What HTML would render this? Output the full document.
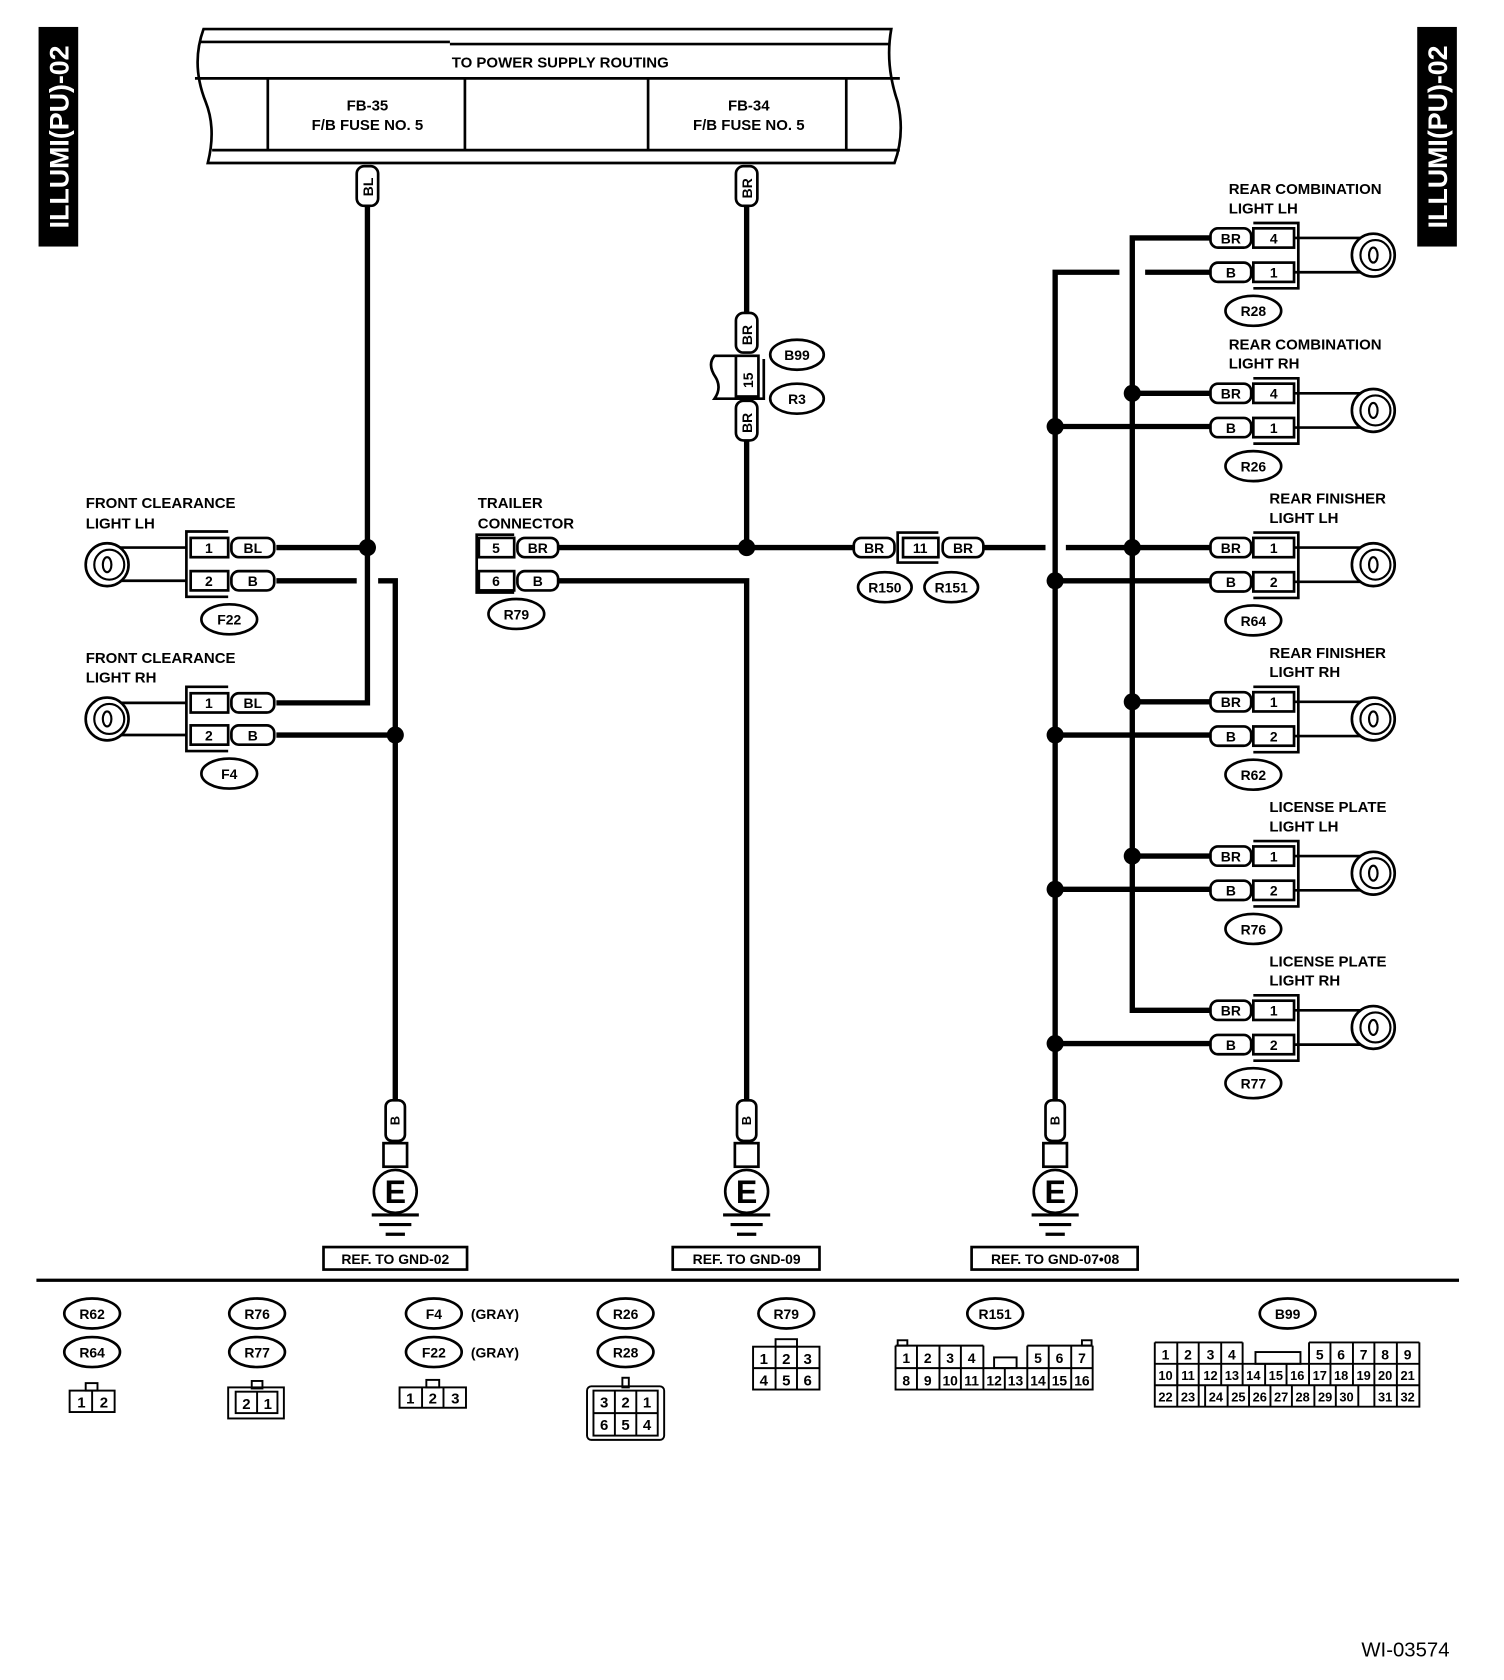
<!DOCTYPE html>
<html><head><meta charset="utf-8"><style>
html,body{margin:0;padding:0;background:#fff}
svg{display:block}
text{font-family:"Liberation Sans",Arial,sans-serif;font-weight:bold;fill:#000}
</style></head><body>
<svg width="1504" height="1680" viewBox="0 0 1404 1568" xmlns="http://www.w3.org/2000/svg">
<defs>
<g id="lamp"><circle r="20" fill="#fff" stroke="#000" stroke-width="2.5"/><circle cx="2" r="14" fill="none" stroke="#000" stroke-width="2"/><ellipse cx="0" cy="0" rx="4" ry="7" fill="none" stroke="#000" stroke-width="2"/></g>
<g id="gnd"><rect x="-9" y="0" width="18" height="38" rx="6" fill="#fff" stroke="#000" stroke-width="2.5"/><text x="0" y="0" font-size="12" text-anchor="middle" transform="translate(4,19) rotate(-90)">B</text><rect x="-11" y="40" width="22" height="22" fill="#fff" stroke="#000" stroke-width="2.5"/><circle cy="85" r="20" fill="#fff" stroke="#000" stroke-width="2.5"/><text x="0" y="96" font-size="30" text-anchor="middle">E</text><line x1="-22" y1="107" x2="22" y2="107" stroke="#000" stroke-width="3"/><line x1="-15" y1="116" x2="15" y2="116" stroke="#000" stroke-width="3"/><line x1="-9" y1="125" x2="9" y2="125" stroke="#000" stroke-width="3"/></g>
</defs>

<rect x="36" y="25" width="37" height="205" fill="#000"/>
<text transform="translate(64,213) rotate(-90)" font-size="25" style="fill:#fff">ILLUMI(PU)-02</text>
<rect x="1323" y="25" width="37" height="205" fill="#000"/>
<text transform="translate(1351,213) rotate(-90)" font-size="25" style="fill:#fff">ILLUMI(PU)-02</text>

<g fill="none" stroke="#000" stroke-width="2.5">
<path d="M190,27 L832,27 Q826,60 838,95 Q845,125 835,152 L194,152 Q202,120 192,95 Q178,60 190,27 Z" fill="#fff"/>
<line x1="187" y1="39" x2="420" y2="39"/><line x1="420" y1="41" x2="830" y2="41"/>
<line x1="182" y1="73" x2="840" y2="73"/>
<line x1="198" y1="140" x2="840" y2="140"/>
<line x1="250" y1="73" x2="250" y2="140"/><line x1="434" y1="73" x2="434" y2="140"/>
<line x1="605" y1="73" x2="605" y2="140"/><line x1="790" y1="73" x2="790" y2="140"/>
</g>
<text x="523" y="63" font-size="14" text-anchor="middle">TO POWER SUPPLY ROUTING</text>
<text x="343" y="103" font-size="14" text-anchor="middle">FB-35</text>
<text x="343" y="121" font-size="14" text-anchor="middle">F/B FUSE NO. 5</text>
<text x="699" y="103" font-size="14" text-anchor="middle">FB-34</text>
<text x="699" y="121" font-size="14" text-anchor="middle">F/B FUSE NO. 5</text>

<g stroke="#000" stroke-width="5" fill="none">
<path d="M343,190 L343,656 L258,656"/>
<line x1="258" y1="511" x2="343" y2="511"/>
<path d="M258,542 L333,542"/><path d="M353,542 L369,542 L369,1030"/>
<line x1="258" y1="686" x2="369" y2="686"/>
<line x1="697" y1="190" x2="697" y2="292"/>
<line x1="697" y1="410" x2="697" y2="511"/>
<line x1="520" y1="511" x2="797" y2="511"/>
<path d="M520,542 L697,542 L697,1030"/>
<line x1="918" y1="511" x2="976" y2="511"/>
<line x1="995" y1="511" x2="1130" y2="511"/>
<path d="M1130,222 L1057,222 L1057,943 L1130,943"/>
<line x1="1057" y1="367" x2="1130" y2="367"/>
<line x1="1057" y1="655" x2="1130" y2="655"/>
<line x1="1057" y1="799" x2="1130" y2="799"/>
<path d="M1045,254 L985,254 L985,1030"/>
<line x1="1069" y1="254" x2="1130" y2="254"/>
<line x1="985" y1="398" x2="1130" y2="398"/>
<line x1="985" y1="542" x2="1130" y2="542"/>
<line x1="985" y1="686" x2="1130" y2="686"/>
<line x1="985" y1="830" x2="1130" y2="830"/>
<line x1="985" y1="974" x2="1130" y2="974"/>
</g>
<g fill="#000">
<circle cx="343" cy="511" r="8"/><circle cx="369" cy="686" r="8"/><circle cx="697" cy="511" r="8"/>
<circle cx="1057" cy="367" r="8"/><circle cx="1057" cy="511" r="8"/><circle cx="1057" cy="655" r="8"/><circle cx="1057" cy="799" r="8"/>
<circle cx="985" cy="398" r="8"/><circle cx="985" cy="542" r="8"/><circle cx="985" cy="686" r="8"/><circle cx="985" cy="830" r="8"/><circle cx="985" cy="974" r="8"/>
</g>

<g fill="#fff" stroke="#000" stroke-width="2.5">
<rect x="333" y="155" width="20" height="37" rx="7"/>
<rect x="687" y="155" width="20" height="37" rx="7"/>
<rect x="687" y="292" width="20" height="37" rx="7"/>
<rect x="687" y="374" width="20" height="37" rx="7"/>
<path d="M687,332 L667,332 Q660,340 668,352 Q674,362 667,372 L713,372 L713,335" fill="none"/>
<rect x="687" y="332" width="21" height="38"/>
</g>
<g font-size="13">
<text transform="translate(348,183) rotate(-90)">BL</text>
<text transform="translate(702,185) rotate(-90)">BR</text>
<text transform="translate(702,322) rotate(-90)">BR</text>
<text transform="translate(703,362) rotate(-90)">15</text>
<text transform="translate(702,404) rotate(-90)">BR</text>
</g>
<g fill="#fff" stroke="#000" stroke-width="2.5">
<ellipse cx="744" cy="331" rx="25" ry="14"/><ellipse cx="744" cy="372" rx="25" ry="14"/>
</g>
<g font-size="13" text-anchor="middle"><text x="744" y="336">B99</text><text x="744" y="377">R3</text></g>

<g font-size="14">
<text x="80" y="474">FRONT CLEARANCE</text><text x="80" y="493">LIGHT LH</text>
<text x="80" y="619">FRONT CLEARANCE</text><text x="80" y="637">LIGHT RH</text>
<text x="446" y="474">TRAILER</text><text x="446" y="493">CONNECTOR</text>
</g>
<g stroke="#000" stroke-width="2.5" fill="none">
<line x1="100" y1="511" x2="175" y2="511"/><line x1="100" y1="542" x2="175" y2="542"/>
<path d="M213,496 L174,496 L174,557 L213,557"/>
<rect x="178" y="502" width="35" height="18" fill="#fff"/><rect x="178" y="533" width="35" height="18" fill="#fff"/>
<rect x="216" y="502" width="40" height="18" rx="7" fill="#fff"/><rect x="216" y="533" width="40" height="18" rx="7" fill="#fff"/>
<line x1="100" y1="656" x2="175" y2="656"/><line x1="100" y1="686" x2="175" y2="686"/>
<path d="M213,641 L174,641 L174,701 L213,701"/>
<rect x="178" y="647" width="35" height="18" fill="#fff"/><rect x="178" y="677" width="35" height="18" fill="#fff"/>
<rect x="216" y="647" width="40" height="18" rx="7" fill="#fff"/><rect x="216" y="677" width="40" height="18" rx="7" fill="#fff"/>
<path d="M480,499 L445,499 L445,553 L480,553"/>
<rect x="447" y="502" width="33" height="18" fill="#fff"/><rect x="447" y="533" width="33" height="18" fill="#fff"/>
<rect x="483" y="502" width="38" height="18" rx="7" fill="#fff"/><rect x="483" y="533" width="38" height="18" rx="7" fill="#fff"/>
<rect x="797" y="502" width="38" height="18" rx="7" fill="#fff"/>
<path d="M876,497 L838,497 L838,525 L876,525"/>
<rect x="843" y="502" width="33" height="18" fill="#fff"/>
<rect x="880" y="502" width="38" height="18" rx="7" fill="#fff"/>
<ellipse cx="826" cy="548" rx="25" ry="14" fill="#fff"/><ellipse cx="888" cy="548" rx="25" ry="14" fill="#fff"/>
<ellipse cx="214" cy="578" rx="26" ry="14" fill="#fff"/><ellipse cx="214" cy="722" rx="26" ry="14" fill="#fff"/>
<ellipse cx="482" cy="573" rx="26" ry="14" fill="#fff"/>
</g>
<use href="#lamp" x="100" y="527"/><use href="#lamp" x="100" y="671"/>
<g font-size="13" text-anchor="middle">
<text x="195" y="516">1</text><text x="236" y="516">BL</text><text x="195" y="547">2</text><text x="236" y="547">B</text>
<text x="195" y="661">1</text><text x="236" y="661">BL</text><text x="195" y="691">2</text><text x="236" y="691">B</text>
<text x="463" y="516">5</text><text x="502" y="516">BR</text><text x="463" y="547">6</text><text x="502" y="547">B</text>
<text x="816" y="516">BR</text><text x="859" y="516">11</text><text x="899" y="516">BR</text>
<text x="826" y="553">R150</text><text x="888" y="553">R151</text>
<text x="214" y="583">F22</text><text x="214" y="727">F4</text><text x="482" y="578">R79</text>
</g>

<g font-size="14">
<text x="1147" y="181">REAR COMBINATION</text><text x="1147" y="199">LIGHT LH</text>
<text x="1147" y="326">REAR COMBINATION</text><text x="1147" y="344">LIGHT RH</text>
<text x="1185" y="470">REAR FINISHER</text><text x="1185" y="488">LIGHT LH</text>
<text x="1185" y="614">REAR FINISHER</text><text x="1185" y="632">LIGHT RH</text>
<text x="1185" y="758">LICENSE PLATE</text><text x="1185" y="776">LIGHT LH</text>
<text x="1185" y="902">LICENSE PLATE</text><text x="1185" y="920">LIGHT RH</text>
</g>
<g stroke="#000" stroke-width="2.5" fill="none">
<g id="rc">
<line x1="1208" y1="222" x2="1280" y2="222"/><line x1="1208" y1="254" x2="1280" y2="254"/>
<path d="M1170,208 L1212,208 L1212,269 L1170,269"/>
<rect x="1170" y="213" width="38" height="18" fill="#fff"/><rect x="1170" y="245" width="38" height="18" fill="#fff"/>
<rect x="1130" y="213" width="38" height="18" rx="7" fill="#fff"/><rect x="1130" y="245" width="38" height="18" rx="7" fill="#fff"/>
<ellipse cx="1170" cy="290" rx="26" ry="14" fill="#fff"/>
</g>
<use href="#rc" y="145"/><use href="#rc" y="289"/><use href="#rc" y="433"/><use href="#rc" y="577"/><use href="#rc" y="721"/>
</g>
<use href="#lamp" x="1282" y="238"/><use href="#lamp" x="1282" y="383"/><use href="#lamp" x="1282" y="527"/>
<use href="#lamp" x="1282" y="671"/><use href="#lamp" x="1282" y="815"/><use href="#lamp" x="1282" y="959"/>
<g font-size="13" text-anchor="middle">
<text x="1149" y="227">BR</text><text x="1189" y="227">4</text><text x="1149" y="259">B</text><text x="1189" y="259">1</text><text x="1170" y="295">R28</text>
<text x="1149" y="372">BR</text><text x="1189" y="372">4</text><text x="1149" y="404">B</text><text x="1189" y="404">1</text><text x="1170" y="440">R26</text>
<text x="1149" y="516">BR</text><text x="1189" y="516">1</text><text x="1149" y="548">B</text><text x="1189" y="548">2</text><text x="1170" y="584">R64</text>
<text x="1149" y="660">BR</text><text x="1189" y="660">1</text><text x="1149" y="692">B</text><text x="1189" y="692">2</text><text x="1170" y="728">R62</text>
<text x="1149" y="804">BR</text><text x="1189" y="804">1</text><text x="1149" y="836">B</text><text x="1189" y="836">2</text><text x="1170" y="872">R76</text>
<text x="1149" y="948">BR</text><text x="1189" y="948">1</text><text x="1149" y="980">B</text><text x="1189" y="980">2</text><text x="1170" y="1016">R77</text>
</g>

<use href="#gnd" x="369" y="1027"/><use href="#gnd" x="697" y="1027"/><use href="#gnd" x="985" y="1027"/>
<g fill="#fff" stroke="#000" stroke-width="2.5">
<rect x="302" y="1164" width="134" height="21"/><rect x="628" y="1164" width="137" height="21"/><rect x="907" y="1164" width="155" height="21"/>
</g>
<g font-size="13" text-anchor="middle">
<text x="369" y="1180">REF. TO GND-02</text><text x="697" y="1180">REF. TO GND-09</text><text x="985" y="1180">REF. TO GND-07•08</text>
</g>
<line x1="34" y1="1195" x2="1362" y2="1195" stroke="#000" stroke-width="3"/>

<g fill="#fff" stroke="#000" stroke-width="2.5">
<ellipse cx="86" cy="1226" rx="26" ry="14"/><ellipse cx="86" cy="1262" rx="26" ry="14"/>
<ellipse cx="240" cy="1226" rx="26" ry="14"/><ellipse cx="240" cy="1262" rx="26" ry="14"/>
<ellipse cx="405" cy="1226" rx="26" ry="14"/><ellipse cx="405" cy="1262" rx="26" ry="14"/>
<ellipse cx="584" cy="1226" rx="26" ry="14"/><ellipse cx="584" cy="1262" rx="26" ry="14"/>
<ellipse cx="734" cy="1226" rx="26" ry="14"/>
<ellipse cx="929" cy="1226" rx="26" ry="14"/>
<ellipse cx="1202" cy="1226" rx="26" ry="14"/>
</g>
<g font-size="13" text-anchor="middle">
<text x="86" y="1231">R62</text><text x="86" y="1267">R64</text>
<text x="240" y="1231">R76</text><text x="240" y="1267">R77</text>
<text x="405" y="1231">F4</text><text x="405" y="1267">F22</text>
<text x="584" y="1231">R26</text><text x="584" y="1267">R28</text>
<text x="734" y="1231">R79</text><text x="929" y="1231">R151</text><text x="1202" y="1231">B99</text>
<text x="462" y="1231">(GRAY)</text><text x="462" y="1267">(GRAY)</text>
</g>
<g fill="none" stroke="#000" stroke-width="1.8">
<rect x="80" y="1291" width="11" height="7"/><rect x="65" y="1298" width="42" height="20"/><line x1="86" y1="1298" x2="86" y2="1318"/>
<rect x="235" y="1289" width="10" height="7"/><rect x="213" y="1295" width="52" height="29"/><rect x="220" y="1299" width="39" height="20"/><line x1="240" y1="1299" x2="240" y2="1319"/>
<rect x="398" y="1288" width="12" height="7"/><rect x="373" y="1295" width="62" height="19"/><line x1="394" y1="1295" x2="394" y2="1314"/><line x1="414" y1="1295" x2="414" y2="1314"/>
<rect x="581" y="1286" width="6" height="9"/><rect x="548" y="1294" width="72" height="50" rx="4"/><rect x="554" y="1298" width="60" height="42"/>
<line x1="554" y1="1319" x2="614" y2="1319"/><line x1="574" y1="1298" x2="574" y2="1340"/><line x1="594" y1="1298" x2="594" y2="1340"/>
<rect x="724" y="1250" width="20" height="7"/><rect x="703" y="1257" width="62" height="40"/><line x1="703" y1="1277" x2="765" y2="1277"/><line x1="724" y1="1257" x2="724" y2="1297"/><line x1="744" y1="1257" x2="744" y2="1297"/>
<rect x="838" y="1251" width="9" height="5"/><rect x="1010" y="1251" width="9" height="5"/>
<path d="M836,1256 L918,1256 M959,1256 L1020,1256 M836,1256 L836,1297 L1020,1297 L1020,1256 M836,1277 L1020,1277"/>
<rect x="928" y="1267" width="21" height="10"/>
<path d="M856,1256V1297 M877,1256V1297 M897,1256V1297 M918,1256V1277 M918,1277V1297 M938,1277V1297 M959,1256V1297 M979,1256V1297 M1000,1256V1297"/>
<path d="M1078,1253 L1160,1253 M1222,1253 L1325,1253 M1078,1253 L1078,1313 L1325,1313 L1325,1253 M1078,1273 L1325,1273 M1078,1293 L1325,1293 M1160,1253V1273 M1222,1253V1273"/>
<rect x="1172" y="1262" width="42" height="11"/>
<path d="M1099,1253V1313 M1119,1253V1273 M1140,1253V1273 M1242,1253V1273 M1263,1253V1273 M1283,1253V1273 M1304,1253V1273"/>
<path d="M1099,1273V1293 M1119,1273V1293 M1140,1273V1293 M1160,1273V1293 M1181,1273V1293 M1201,1273V1293 M1222,1273V1293 M1242,1273V1293 M1263,1273V1293 M1283,1273V1293 M1304,1273V1293"/>
<path d="M1119,1293V1313 M1125,1293V1313 M1146,1293V1313 M1166,1293V1313 M1186,1293V1313 M1206,1293V1313 M1227,1293V1313 M1247,1293V1313 M1268,1293V1313 M1283,1293V1313 M1304,1293V1313"/>
</g>
<g font-size="14" text-anchor="middle">
<text x="76" y="1314">1</text><text x="97" y="1314">2</text>
<text x="230" y="1315">2</text><text x="250" y="1315">1</text>
<text x="383" y="1310">1</text><text x="404" y="1310">2</text><text x="425" y="1310">3</text>
<text x="564" y="1314">3</text><text x="584" y="1314">2</text><text x="604" y="1314">1</text>
<text x="564" y="1335">6</text><text x="584" y="1335">5</text><text x="604" y="1335">4</text>
<text x="713" y="1273">1</text><text x="734" y="1273">2</text><text x="754" y="1273">3</text>
<text x="713" y="1293">4</text><text x="734" y="1293">5</text><text x="754" y="1293">6</text>
</g>
<g font-size="13" text-anchor="middle">
<text x="846" y="1272">1</text><text x="866" y="1272">2</text><text x="887" y="1272">3</text><text x="907" y="1272">4</text>
<text x="969" y="1272">5</text><text x="989" y="1272">6</text><text x="1010" y="1272">7</text>
<text x="846" y="1293">8</text><text x="866" y="1293">9</text><text x="887" y="1293">10</text><text x="907" y="1293">11</text><text x="928" y="1293">12</text><text x="948" y="1293">13</text><text x="969" y="1293">14</text><text x="989" y="1293">15</text><text x="1010" y="1293">16</text>
<text x="1088" y="1269">1</text><text x="1109" y="1269">2</text><text x="1130" y="1269">3</text><text x="1150" y="1269">4</text>
<text x="1232" y="1269">5</text><text x="1252" y="1269">6</text><text x="1273" y="1269">7</text><text x="1293" y="1269">8</text><text x="1314" y="1269">9</text>
</g>
<g font-size="12" text-anchor="middle">
<text x="1088" y="1288">10</text><text x="1109" y="1288">11</text><text x="1130" y="1288">12</text><text x="1150" y="1288">13</text><text x="1170" y="1288">14</text><text x="1191" y="1288">15</text><text x="1211" y="1288">16</text><text x="1232" y="1288">17</text><text x="1252" y="1288">18</text><text x="1273" y="1288">19</text><text x="1293" y="1288">20</text><text x="1314" y="1288">21</text>
<text x="1088" y="1308">22</text><text x="1109" y="1308">23</text><text x="1135" y="1308">24</text><text x="1156" y="1308">25</text><text x="1176" y="1308">26</text><text x="1196" y="1308">27</text><text x="1216" y="1308">28</text><text x="1237" y="1308">29</text><text x="1257" y="1308">30</text><text x="1293" y="1308">31</text><text x="1314" y="1308">32</text>
</g>
<text x="1312" y="1546" font-size="19" text-anchor="middle" style="font-weight:normal">WI-03574</text>
</svg>
</body></html>
